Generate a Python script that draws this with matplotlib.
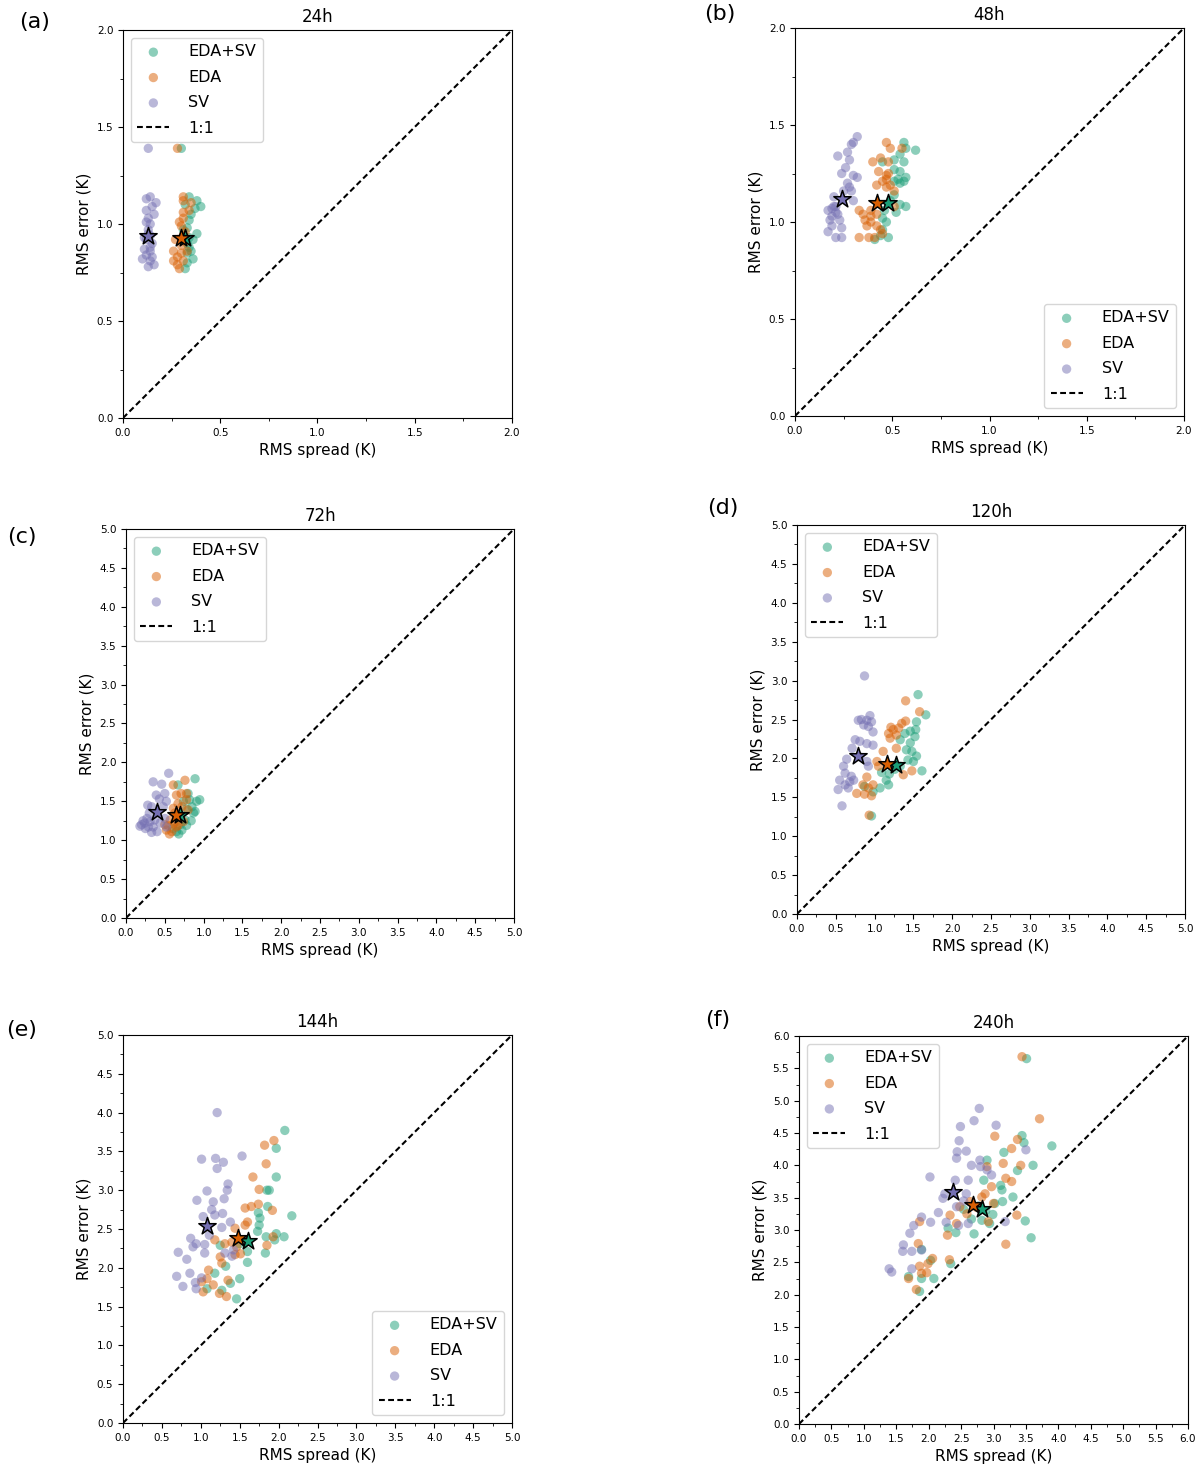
import matplotlib.pyplot as plt

# colours (Dark2)
c_both = '#1b9e77'
c_eda = '#d95f02'
c_sv = '#7570b3'

# ---- (a) 24h ----
both_a_x = [0.30, 0.34, 0.38, 0.40, 0.37, 0.34, 0.33, 0.38, 0.34, 0.34, 0.33, 0.36, 0.33, 0.32, 0.35, 0.33, 0.31, 0.35, 0.32, 0.36]
both_a_y = [1.39, 1.14, 1.12, 1.09, 1.08, 1.02, 0.98, 0.95, 0.93, 0.88, 0.85, 0.82, 0.80, 0.77, 1.05, 0.90, 0.97, 0.86, 1.10, 0.92]
eda_a_x = [0.28, 0.31, 0.31, 0.35, 0.34, 0.31, 0.31, 0.30, 0.31, 0.27, 0.26, 0.28, 0.31, 0.29, 0.26, 0.33, 0.30, 0.29, 0.32, 0.30, 0.28, 0.32]
eda_a_y = [1.39, 1.14, 1.12, 1.11, 1.07, 1.06, 1.03, 0.99, 0.94, 0.92, 0.86, 0.83, 0.81, 0.77, 0.81, 0.86, 0.89, 1.01, 0.96, 0.85, 0.79, 0.91]
sv_a_x = [0.13, 0.14, 0.12, 0.17, 0.15, 0.12, 0.16, 0.13, 0.14, 0.13, 0.14, 0.12, 0.15, 0.11, 0.14, 0.12, 0.10, 0.14, 0.16, 0.13, 0.12, 0.14, 0.13, 0.11, 0.15]
sv_a_y = [1.39, 1.14, 1.13, 1.11, 1.09, 1.07, 1.05, 1.03, 1.00, 0.97, 0.94, 0.92, 0.90, 0.87, 0.86, 0.84, 0.82, 0.81, 0.79, 0.78, 1.01, 0.88, 0.95, 0.93, 0.83]
star_a_x = [0.32, 0.30, 0.13]
star_a_y = [0.93, 0.93, 0.94]

# ---- (b) 48h ----
both_b_x = [0.56, 0.57, 0.62, 0.54, 0.51, 0.56, 0.45, 0.51, 0.54, 0.57, 0.53, 0.51, 0.56, 0.51, 0.54, 0.57, 0.52, 0.46, 0.45, 0.47, 0.45, 0.48, 0.41, 0.44, 0.49, 0.54]
both_b_y = [1.41, 1.38, 1.37, 1.35, 1.32, 1.31, 1.31, 1.27, 1.26, 1.23, 1.22, 1.21, 1.21, 1.14, 1.09, 1.08, 1.05, 1.06, 1.02, 1.00, 0.96, 0.92, 0.91, 0.93, 1.11, 1.20]
eda_b_x = [0.47, 0.49, 0.55, 0.44, 0.40, 0.48, 0.43, 0.48, 0.47, 0.47, 0.45, 0.42, 0.49, 0.51, 0.33, 0.35, 0.36, 0.39, 0.37, 0.42, 0.44, 0.33, 0.38, 0.41, 0.45, 0.39, 0.51, 0.47, 0.42, 0.39]
eda_b_y = [1.41, 1.38, 1.38, 1.33, 1.31, 1.31, 1.26, 1.25, 1.24, 1.22, 1.21, 1.19, 1.19, 1.08, 1.06, 1.04, 1.01, 1.00, 0.98, 0.98, 0.96, 0.92, 0.92, 0.92, 0.94, 1.06, 1.16, 1.18, 1.04, 1.03]
sv_b_x = [0.32, 0.30, 0.29, 0.27, 0.22, 0.28, 0.26, 0.24, 0.30, 0.32, 0.27, 0.28, 0.25, 0.29, 0.30, 0.20, 0.19, 0.21, 0.22, 0.18, 0.23, 0.19, 0.24, 0.21, 0.24, 0.20, 0.21, 0.19, 0.17, 0.17]
sv_b_y = [1.44, 1.41, 1.40, 1.36, 1.34, 1.32, 1.28, 1.25, 1.24, 1.23, 1.20, 1.18, 1.16, 1.16, 1.11, 1.08, 1.07, 1.05, 1.04, 1.01, 1.01, 0.98, 0.97, 0.92, 0.92, 1.13, 1.08, 1.03, 1.06, 0.95]
star_b_x = [0.48, 0.42, 0.24]
star_b_y = [1.10, 1.10, 1.12]

# ---- (c) 72h ----
both_c_x = [0.89, 0.67, 0.80, 0.95, 0.91, 0.85, 0.87, 0.76, 0.78, 0.72, 0.65, 0.82, 0.89, 0.74, 0.70, 0.68, 0.84, 0.60, 0.78]
both_c_y = [1.79, 1.71, 1.60, 1.52, 1.50, 1.43, 1.35, 1.26, 1.19, 1.13, 1.11, 1.52, 1.37, 1.50, 1.20, 1.08, 1.25, 1.15, 1.40]
eda_c_x = [0.61, 0.76, 0.65, 0.71, 0.78, 0.67, 0.61, 0.57, 0.52, 0.59, 0.65, 0.74, 0.80, 0.63, 0.54, 0.72, 0.67, 0.78, 0.56, 0.62, 0.70, 0.50]
eda_c_y = [1.71, 1.77, 1.58, 1.60, 1.52, 1.47, 1.41, 1.26, 1.13, 1.11, 1.17, 1.24, 1.39, 1.35, 1.19, 1.43, 1.19, 1.60, 1.08, 1.22, 1.30, 1.20]
sv_c_x = [0.55, 0.35, 0.46, 0.39, 0.50, 0.43, 0.52, 0.33, 0.48, 0.27, 0.31, 0.35, 0.29, 0.44, 0.50, 0.40, 0.52, 0.37, 0.24, 0.20, 0.25, 0.22, 0.30, 0.28, 0.18, 0.33]
sv_c_y = [1.86, 1.75, 1.72, 1.58, 1.60, 1.53, 1.50, 1.43, 1.43, 1.28, 1.24, 1.17, 1.17, 1.22, 1.28, 1.11, 1.17, 1.26, 1.22, 1.20, 1.15, 1.25, 1.35, 1.45, 1.18, 1.10]
star_c_x = [0.70, 0.64, 0.40]
star_c_y = [1.32, 1.32, 1.36]

# ---- (d) 120h ----
both_d_x = [1.56, 1.66, 1.54, 1.53, 1.46, 1.52, 1.39, 1.33, 1.46, 1.48, 1.54, 1.43, 1.33, 1.26, 1.19, 1.09, 1.18, 1.07, 0.98, 0.87, 1.15, 0.96, 1.50, 1.41, 1.61]
both_d_y = [2.82, 2.56, 2.47, 2.37, 2.35, 2.28, 2.32, 2.24, 2.20, 2.09, 2.03, 1.98, 1.90, 1.86, 1.80, 1.82, 1.66, 1.62, 1.57, 1.64, 1.72, 1.26, 1.96, 2.11, 1.84]
eda_d_x = [1.40, 1.58, 1.40, 1.35, 1.31, 1.21, 1.18, 1.28, 1.20, 1.28, 1.11, 1.03, 1.05, 1.48, 1.37, 0.90, 0.85, 0.98, 0.92, 0.77, 0.87, 0.96, 0.93, 1.24]
eda_d_y = [2.74, 2.60, 2.48, 2.45, 2.39, 2.40, 2.32, 2.30, 2.26, 2.13, 2.09, 1.96, 1.90, 1.84, 1.79, 1.76, 1.66, 1.66, 1.62, 1.55, 1.54, 1.52, 1.27, 2.37]
sv_d_x = [0.87, 0.94, 0.83, 0.90, 0.96, 0.79, 0.86, 0.92, 0.98, 0.75, 0.81, 0.90, 0.98, 0.71, 0.64, 0.81, 0.90, 0.92, 0.60, 0.62, 0.70, 0.55, 0.68, 0.62, 0.53, 0.58, 0.66, 0.73]
sv_d_y = [3.06, 2.55, 2.50, 2.49, 2.47, 2.49, 2.43, 2.41, 2.34, 2.24, 2.22, 2.19, 2.17, 2.13, 1.99, 2.02, 1.96, 1.90, 1.90, 1.81, 1.77, 1.72, 1.70, 1.66, 1.60, 1.39, 1.62, 1.72]
star_d_x = [1.28, 1.16, 0.79]
star_d_y = [1.92, 1.93, 2.03]

# ---- (e) 144h ----
both_e_x = [2.08, 1.97, 1.97, 1.85, 1.88, 1.86, 1.74, 1.76, 2.17, 1.75, 1.73, 1.84, 1.97, 2.07, 1.95, 1.25, 1.50, 1.60, 1.83, 1.60, 1.32, 1.18, 1.50, 1.38, 1.27, 1.08, 1.46]
both_e_y = [3.77, 3.54, 3.17, 3.00, 3.00, 2.79, 2.71, 2.64, 2.67, 2.55, 2.47, 2.40, 2.44, 2.40, 2.36, 2.29, 2.31, 2.21, 2.19, 2.07, 2.02, 1.93, 1.86, 1.80, 1.71, 1.73, 1.60]
eda_e_x = [1.82, 1.94, 1.84, 1.67, 1.75, 1.57, 1.65, 1.74, 1.92, 1.60, 1.57, 1.44, 1.18, 1.31, 1.40, 1.46, 1.51, 1.44, 1.25, 1.27, 1.10, 1.08, 1.35, 1.01, 1.16, 1.03, 1.24, 1.33, 1.85, 1.93]
eda_e_y = [3.58, 3.64, 3.34, 3.17, 3.01, 2.77, 2.79, 2.82, 2.74, 2.59, 2.55, 2.51, 2.36, 2.31, 2.33, 2.27, 2.18, 2.17, 2.14, 2.06, 1.97, 1.86, 1.84, 1.82, 1.78, 1.69, 1.67, 1.63, 2.29, 2.40]
sv_e_x = [1.21, 1.01, 1.19, 1.29, 1.21, 1.53, 1.35, 1.34, 1.08, 0.95, 1.30, 1.16, 1.14, 1.28, 1.18, 1.03, 1.38, 1.27, 1.11, 0.87, 0.94, 0.90, 1.05, 0.71, 0.82, 1.05, 1.31, 1.42, 0.69, 0.86, 0.77, 0.93, 0.94, 1.01, 1.40]
sv_e_y = [4.00, 3.40, 3.41, 3.36, 3.28, 3.44, 3.08, 3.00, 2.99, 2.87, 2.89, 2.85, 2.75, 2.70, 2.68, 2.66, 2.59, 2.52, 2.42, 2.38, 2.31, 2.27, 2.30, 2.20, 2.11, 2.19, 2.19, 2.23, 1.89, 1.93, 1.76, 1.81, 1.73, 1.87, 2.15]
star_e_x = [1.61, 1.48, 1.08]
star_e_y = [2.35, 2.39, 2.54]

# ---- (f) 240h ----
both_f_x = [3.51, 3.90, 3.44, 3.47, 3.16, 3.61, 3.37, 2.90, 2.85, 3.11, 3.13, 3.30, 3.02, 3.14, 2.77, 2.88, 2.99, 2.66, 2.54, 2.82, 2.94, 3.49, 2.30, 2.42, 2.70, 3.58, 1.89, 2.03, 2.34, 1.69, 1.89, 2.08, 1.86]
both_f_y = [5.65, 4.30, 4.46, 4.35, 4.20, 4.00, 3.92, 4.08, 3.77, 3.69, 3.62, 3.51, 3.41, 3.44, 3.37, 3.30, 3.24, 3.17, 3.32, 3.15, 3.10, 3.14, 3.03, 2.96, 2.94, 2.88, 2.70, 2.53, 2.48, 2.28, 2.25, 2.25, 2.05]
eda_f_x = [3.44, 3.71, 3.02, 3.37, 3.28, 3.15, 3.42, 2.90, 3.19, 3.28, 2.97, 2.87, 2.82, 3.00, 2.74, 2.48, 2.33, 2.59, 2.43, 2.29, 2.92, 3.36, 3.19, 1.86, 1.84, 2.06, 1.99, 2.32, 1.86, 1.89, 1.69, 1.81, 1.97, 2.64]
eda_f_y = [5.68, 4.72, 4.45, 4.40, 4.26, 4.03, 4.00, 3.98, 3.80, 3.75, 3.67, 3.56, 3.51, 3.41, 3.35, 3.36, 3.23, 3.25, 3.10, 2.92, 3.13, 3.23, 2.78, 3.13, 2.79, 2.56, 2.48, 2.54, 2.44, 2.33, 2.25, 2.08, 2.34, 3.44]
sv_f_x = [2.78, 2.70, 3.04, 2.49, 2.47, 2.44, 2.58, 2.43, 2.66, 2.79, 2.80, 2.90, 2.97, 3.50, 2.02, 2.25, 2.22, 2.41, 2.61, 2.58, 2.54, 2.43, 2.15, 1.89, 2.03, 2.27, 1.77, 2.61, 2.46, 1.71, 1.61, 1.60, 1.74, 1.89, 3.18, 1.39, 1.43, 1.74]
sv_f_y = [4.88, 4.69, 4.62, 4.60, 4.38, 4.21, 4.22, 4.11, 4.00, 4.08, 3.98, 3.93, 3.85, 4.24, 3.82, 3.56, 3.49, 3.77, 3.77, 3.56, 3.45, 3.36, 3.27, 3.20, 3.12, 3.12, 3.07, 3.10, 3.07, 2.95, 2.77, 2.67, 2.67, 2.69, 3.13, 2.40, 2.35, 2.40]
star_f_x = [2.82, 2.69, 2.37]
star_f_y = [3.33, 3.38, 3.59]

panels = [
    # label, title, data, lim, major step, legend loc, axes rect (px: left, right, top, bottom), label pos
    ('(a)', '24h', (both_a_x, both_a_y, eda_a_x, eda_a_y, sv_a_x, sv_a_y, star_a_x, star_a_y), 2.0, 0.5, 'upper left', (123, 512, 30, 418), (35, 22)),
    ('(b)', '48h', (both_b_x, both_b_y, eda_b_x, eda_b_y, sv_b_x, sv_b_y, star_b_x, star_b_y), 2.0, 0.5, 'lower right', (795, 1184, 28, 416), (720, 14)),
    ('(c)', '72h', (both_c_x, both_c_y, eda_c_x, eda_c_y, sv_c_x, sv_c_y, star_c_x, star_c_y), 5.0, 0.5, 'upper left', (126, 514, 529, 918), (22, 537)),
    ('(d)', '120h', (both_d_x, both_d_y, eda_d_x, eda_d_y, sv_d_x, sv_d_y, star_d_x, star_d_y), 5.0, 0.5, 'upper left', (797, 1185, 525, 914), (723, 508)),
    ('(e)', '144h', (both_e_x, both_e_y, eda_e_x, eda_e_y, sv_e_x, sv_e_y, star_e_x, star_e_y), 5.0, 0.5, 'lower right', (123, 512, 1035, 1423), (22, 1030)),
    ('(f)', '240h', (both_f_x, both_f_y, eda_f_x, eda_f_y, sv_f_x, sv_f_y, star_f_x, star_f_y), 6.0, 0.5, 'upper left', (799, 1188, 1036, 1424), (718, 1020)),
]

W, H = 1200, 1466
fig = plt.figure(figsize=(W / 100, H / 100), dpi=100)

for lab, title, d, lim, step, loc, (l, r, t, b), (lx, ly) in panels:
    ax = fig.add_axes([l / W, 1 - b / H, (r - l) / W, (b - t) / H])
    bx, by, ex, ey, sx, sy, stx, sty = d
    ax.scatter(bx, by, s=45, color=c_both, alpha=0.5, edgecolors='none', label='EDA+SV')
    ax.scatter(ex, ey, s=45, color=c_eda, alpha=0.5, edgecolors='none', label='EDA')
    ax.scatter(sx, sy, s=45, color=c_sv, alpha=0.5, edgecolors='none', label='SV')
    ax.plot([0, lim], [0, lim], color='k', ls=(0, (2.8, 1.6)), lw=1.5, label='1:1')
    for cx, cy, col in zip(stx, sty, [c_both, c_eda, c_sv]):
        ax.scatter([cx], [cy], s=170, marker='*', color=col, edgecolors='k', linewidths=1.1, zorder=5)
    ax.set_xlim(0, lim)
    ax.set_ylim(0, lim)
    n = int(round(lim / step))
    ticks = [i * step for i in range(n + 1)]
    ax.set_xticks(ticks)
    ax.set_yticks(ticks)
    ax.set_xticks([i * step / 2 for i in range(2 * n + 1)], minor=True)
    ax.set_yticks([i * step / 2 for i in range(2 * n + 1)], minor=True)
    ax.tick_params(labelsize=7.5)
    ax.set_xlabel('RMS spread (K)', fontsize=11)
    ax.set_ylabel('RMS error (K)', fontsize=11)
    ax.set_title(title, fontsize=12)
    ax.legend(loc=loc, fontsize=11.5, handletextpad=1.2, labelspacing=0.65)
    fig.text(lx / W, 1 - ly / H, lab, fontsize=16, ha='center', va='center')

plt.savefig('out.png', dpi=100)
